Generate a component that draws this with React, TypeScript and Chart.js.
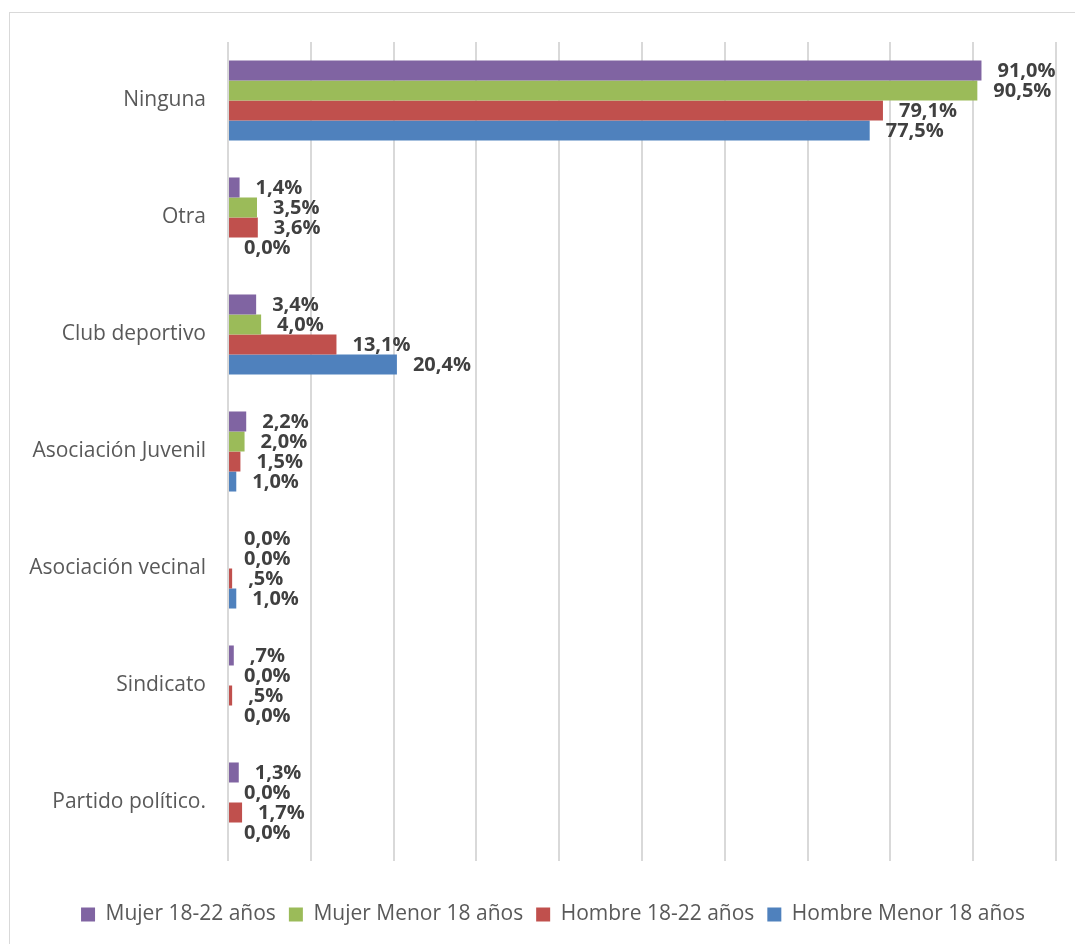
import React, { useEffect, useRef } from "react";
import { Chart, registerables } from "chart.js";

Chart.register(...registerables);

const categories = [
  "Ninguna",
  "Otra",
  "Club deportivo",
  "Asociación Juvenil",
  "Asociación vecinal",
  "Sindicato",
  "Partido político.",
];
const seriesNames = [
  "Mujer 18-22 años",
  "Mujer Menor 18 años",
  "Hombre 18-22 años",
  "Hombre Menor 18 años",
];
const mujer1822 = [91.0, 1.4, 3.4, 2.2, 0.0, 0.7, 1.3];
const mujerMenor18 = [90.5, 3.5, 4.0, 2.0, 0.0, 0.0, 0.0];
const hombre1822 = [79.1, 3.6, 13.1, 1.5, 0.5, 0.5, 1.7];
const hombreMenor18 = [77.5, 0.0, 20.4, 1.0, 1.0, 0.0, 0.0];
const seriesColors = ["#8064A2", "#9BBB59", "#C0504D", "#4F81BD"];
const xMin = 0;
const xMax = 100;
const xStep = 10;

const FONT = "'Open Sans', 'Noto Sans', sans-serif";

function fmt(v: number): string {
  if (v === 0) return "0,0%";
  const s = v.toFixed(1).replace(".", ",");
  return (v < 1 ? s.replace(/^0/, "") : s) + "%";
}

const labelPlugin = {
  id: "barLabels",
  afterDatasetsDraw(chart: any) {
    const ctx = chart.ctx;
    ctx.save();
    ctx.font = `bold 20px ${FONT}`;
    ctx.fillStyle = "#404040";
    ctx.textAlign = "left";
    ctx.textBaseline = "middle";
    chart.data.datasets.forEach((ds: any, di: number) => {
      const meta = chart.getDatasetMeta(di);
      meta.data.forEach((el: any, i: number) => {
        ctx.fillText(fmt(ds.data[i]), el.x + 16, el.y + 1);
      });
    });
    ctx.restore();
  },
};

// centre the legend under the whole chart box rather than the layout area
const legendShift = {
  id: "legendShift",
  afterLayout(chart: any) {
    if (chart.legend) chart.legend.left = 50;
  },
};

export default function App() {
  const ref = useRef<HTMLCanvasElement | null>(null);

  useEffect(() => {
    if (!ref.current) return;
    const seriesData = [mujer1822, mujerMenor18, hombre1822, hombreMenor18];
    const chart = new Chart(ref.current, {
      type: "bar",
      data: {
        labels: categories,
        datasets: seriesNames.map((name, i) => ({
          label: name,
          data: seriesData[i],
          backgroundColor: seriesColors[i],
          borderWidth: 0,
          barPercentage: 1,
          categoryPercentage: 0.684,
        })),
      },
      options: {
        indexAxis: "y",
        responsive: false,
        animation: false,
        layout: { padding: { top: 42, left: 9, right: 19, bottom: 9 } },
        plugins: {
          legend: {
            display: true,
            position: "bottom",
            labels: {
              boxWidth: 14,
              boxHeight: 14,
              padding: 13,
              color: "#595959",
              font: { family: FONT, size: 21 },
            },
          },
          tooltip: { enabled: false },
        },
        scales: {
          x: {
            min: xMin,
            max: xMax,
            ticks: { display: false, stepSize: xStep },
            grid: { color: "#d9d9d9", lineWidth: 2, drawTicks: false },
            border: { display: false },
            afterFit: (scale: any) => {
              scale.height = 30;
            },
          },
          y: {
            grid: { display: false },
            border: { display: false },
            ticks: {
              color: "#595959",
              padding: 14,
              font: { family: FONT, size: 21 },
            },
            afterFit: (scale: any) => {
              scale.width = 219;
            },
          },
        },
      },
      plugins: [labelPlugin, legendShift],
    } as any);
    return () => chart.destroy();
  }, []);

  return (
    <div
      style={{
        position: "fixed",
        left: 0,
        top: 0,
        width: 1075,
        height: 944,
        overflow: "hidden",
        background: "#ffffff",
      }}
    >
      <div
        style={{
          position: "absolute",
          left: 9,
          top: 12,
          width: 1080,
          height: 960,
          border: "1px solid #d9d9d9",
        }}
      />
      <canvas
        ref={ref}
        width={1075}
        height={944}
        style={{ position: "absolute", left: 0, top: 0, width: 1075, height: 944 }}
      />
    </div>
  );
}
